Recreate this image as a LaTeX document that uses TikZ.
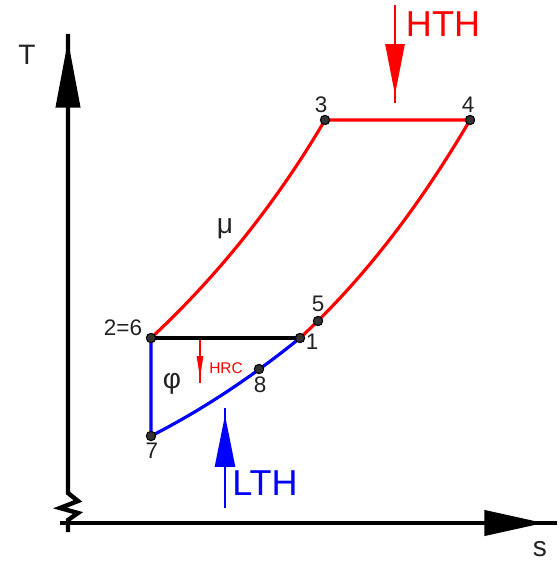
\documentclass[tikz,border=0pt]{standalone}
\usepackage{fontspec}
\setmainfont{Liberation Sans}
\usetikzlibrary{arrows.meta, decorations.markings, positioning}
\definecolor{heatred}{HTML}{FF0000}
\definecolor{coldblue}{HTML}{0000FF}
\definecolor{dotgray}{HTML}{333333}
\definecolor{labelgray}{HTML}{222222}
\tikzset{
  axisline/.style={line width=2.5pt, black, line join=miter},
  cycleline/.style={line width=1.8pt, #1},
  flowline/.style={line width=1.6pt, #1},
  tipat/.style n args={3}{
    postaction={decorate},
    decoration={markings,
      mark=at position #1 with {\arrow{Triangle[length=#2, width=#3]}}}
  },
  statedot/.style={
    circle, draw=black, fill=dotgray, line width=0.6pt,
    inner sep=0pt, minimum size=5.3pt
  },
  num/.style={inner sep=0pt, text=labelgray, font=\fontsize{12.8}{14}\selectfont},
  axislabel/.style={inner sep=0pt, text=labelgray, font=\fontsize{16}{18}\selectfont},
  heatlabel/.style={inner sep=0pt, text=#1, font=\fontsize{20.5}{22}\selectfont}
}

\begin{document}
\begin{tikzpicture}[x=0.02cm, y=-0.02cm]
    \useasboundingbox (0,0) rectangle (560,567);

    % Achsen
    \coordinate (tbot) at (68,532);
    \coordinate (ttop) at (68,34);
    \coordinate (sleft) at (60,523);
    \coordinate (sright) at (557,523);
    \draw[axisline, tipat={-0.12cm}{38.5pt}{13.6pt}]
      (tbot) -- (68,520) -- (78,513) -- (60,508) -- (78,501)
      -- (68,493) -- (ttop);
    \draw[axisline, tipat={-0.26cm}{34pt}{14.2pt}] (sleft) -- (sright);
    \node[axislabel] (tlab) at (27,55) {T};
    \node[axislabel] (slab) at (540,549) {s};

    % Zustaende
    \coordinate (c1) at (300,338);
    \coordinate (c26) at (151,338);
    \coordinate (c3) at (325,120);
    \coordinate (c4) at (470,120);
    \coordinate (c5) at (318,321);
    \coordinate (c7) at (151,436);
    \coordinate (c8) at (259,369);

    % Prozesse
    \draw[cycleline=heatred] (c26) .. controls (219,275) and (278,200) .. (c3)
      -- (c4) .. controls (423,200) and (368,275) .. (c1);
    \draw[line width=2.2pt, black] (c26) -- (c1);
    \draw[cycleline=coldblue] (c1) .. controls (253,376) and (204,409) .. (c7)
      -- (c26);

    \foreach \p in {1,26,3,4,5,7,8}
      \node[statedot] (d\p) at (c\p) {};

    \node[num] (n3) at (321,105) {3};
    \node[num] (n4) at (468,105) {4};
    \node[num] (n5) at (318,304) {5};
    \node[num] (n1) at (312,342) {1};
    \node[num] (n26) at (123,328) {2=6};
    \node[num] (n8) at (260,385) {8};
    \node[num] (n7) at (152,451) {7};
    \node[axislabel] (mu) at (225,229) {μ};
    \node[axislabel] (phi) at (172,384) {φ};

    % Waermestroeme
    \coordinate (hthtop) at (395,5);
    \coordinate (hthbot) at (395,103);
    \draw[flowline=heatred, tipat={-0.16cm}{29pt}{10.8pt}] (hthtop) -- (hthbot);
    \node[heatlabel=heatred] (hth) at (443,24) {HTH};

    \coordinate (lthbot) at (225,508);
    \coordinate (lthtop) at (225,408);
    \draw[flowline=coldblue, tipat={-0.14cm}{29.5pt}{11.3pt}] (lthbot) -- (lthtop);
    \node[heatlabel=coldblue] (lth) at (265,483) {LTH};

    \coordinate (hrctop) at (200,340);
    \coordinate (hrcbot) at (200,383);
    \draw[line width=1.1pt, heatred, tipat={-0.1cm}{12.5pt}{3.6pt}] (hrctop) -- (hrcbot);
    \node[inner sep=0pt, text=heatred, font=\fontsize{8.8}{10}\selectfont]
      (hrc) at (226,368) {HRC};
\end{tikzpicture}
\end{document}
